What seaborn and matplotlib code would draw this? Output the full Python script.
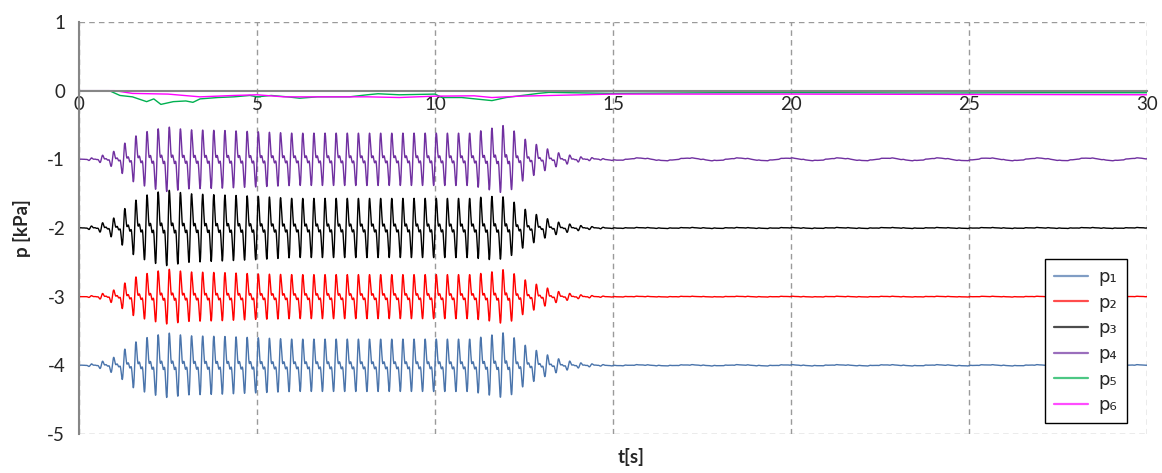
import numpy as np
import pandas as pd
import matplotlib
matplotlib.use("Agg")
import matplotlib.pyplot as plt
import seaborn as sns

# --- valores ------------------------------------------------------------
series_names = ["p₁", "p₂", "p₃", "p₄", "p₅", "p₆"]
series_colors = ["#4a74ab", "#ff0000", "#000000", "#7030a0", "#00b050", "#ff00ff"]

# deslocamento (kPa) de cada sonda oscilante
offsets = {"p₁": -4.0, "p₂": -3.0, "p₃": -2.0, "p₄": -1.0}

# envoltória (meia amplitude, kPa)
env_t = [0, 0.5, 1.0, 1.5, 2.0, 2.5, 3.0, 4.0, 5.0, 6.0, 8.0, 10.0, 11.0,
         11.5, 12.0, 12.5, 13.0, 13.5, 14.0, 14.5, 15.0, 30.0]
env_p1 = [0, 0.03, 0.12, 0.32, 0.42, 0.47, 0.43, 0.42, 0.40, 0.38, 0.38, 0.38,
          0.38, 0.43, 0.48, 0.30, 0.18, 0.09, 0.04, 0.015, 0.005, 0.004]
env_p2 = [0, 0.02, 0.10, 0.27, 0.35, 0.40, 0.36, 0.35, 0.33, 0.32, 0.32, 0.32,
          0.32, 0.35, 0.40, 0.25, 0.15, 0.07, 0.03, 0.012, 0.004, 0.003]
env_p3 = [0, 0.04, 0.15, 0.38, 0.50, 0.55, 0.50, 0.48, 0.46, 0.43, 0.43, 0.43,
          0.43, 0.46, 0.45, 0.28, 0.16, 0.08, 0.04, 0.015, 0.005, 0.004]
env_p4 = [0, 0.03, 0.12, 0.32, 0.42, 0.47, 0.43, 0.42, 0.40, 0.38, 0.38, 0.38,
          0.38, 0.44, 0.50, 0.30, 0.18, 0.09, 0.04, 0.015, 0.005, 0.004]

# pequena ondulação lenta depois de 15 s (kPa)
tail_amp = {"p₁": 0.006, "p₂": 0.003, "p₃": 0.004, "p₄": 0.018}
tail_period = 1.4

# frequências (Hz) e pesos estimados da oscilação
harm_freq = [3.2, 6.4, 9.6]
harm_amp = [0.7, 0.6, 0.35]
harm_phase = [0.0, 0.0, 0.0]

# p5 e p6 (deriva próxima de zero)
p5_t = [0, 0.85, 1.15, 1.5, 1.9, 2.1, 2.3, 2.65, 3.0, 3.2, 3.4, 3.9, 4.35, 4.8,
        5.0, 5.4, 5.85, 6.2, 6.7, 7.6, 8.1, 8.4, 9.0, 10.0, 10.2, 10.75, 11.6,
        12.0, 12.9, 13.2, 15.0, 18.0, 21.0, 24.0, 27.0, 30.0]
p5_v = [0, 0, -0.07, -0.09, -0.16, -0.12, -0.20, -0.16, -0.15, -0.17, -0.12,
        -0.10, -0.09, -0.07, -0.09, -0.07, -0.09, -0.11, -0.09, -0.09, -0.06,
        -0.045, -0.06, -0.05, -0.10, -0.10, -0.145, -0.10, -0.04, -0.025,
        -0.04, -0.03, -0.03, -0.035, -0.03, -0.03]
p6_t = [0, 1.0, 1.5, 2.5, 3.4, 4.35, 5.0, 5.75, 7.2, 8.1, 9.0, 10.0, 11.1,
        11.6, 12.4, 15.0, 20.0, 25.0, 30.0]
p6_v = [0, 0, -0.04, -0.05, -0.09, -0.07, -0.06, -0.09, -0.09, -0.09, -0.10,
        -0.08, -0.075, -0.10, -0.08, -0.05, -0.05, -0.055, -0.06]

# --- montagem dos dados --------------------------------------------------
t = np.arange(0, 30.0001, 0.004)
carrier = sum(a * np.sin(2 * np.pi * f * t + ph)
              for a, f, ph in zip(harm_amp, harm_freq, harm_phase))
carrier = carrier / np.percentile(np.abs(carrier), 97)
slow = np.sin(2 * np.pi * t / tail_period)

frames = []
for name, env in zip(["p₁", "p₂", "p₃", "p₄"], [env_p1, env_p2, env_p3, env_p4]):
    e = np.interp(t, env_t, env)
    w = np.interp(t, [0, 14.0, 15.5, 30], [0, 0, 1, 1])
    y = offsets[name] + e * carrier + w * tail_amp[name] * slow
    frames.append(pd.DataFrame({"t": t, "p": y, "serie": name}))
frames.append(pd.DataFrame({"t": p5_t, "p": p5_v, "serie": "p₅"}))
frames.append(pd.DataFrame({"t": p6_t, "p": p6_v, "serie": "p₆"}))
df = pd.concat(frames, ignore_index=True)

# --- gráfico -------------------------------------------------------------
sns.set_style("white")
plt.rcParams["font.family"] = ["Lato", "DejaVu Sans"]
plt.rcParams["axes.unicode_minus"] = False

fig = plt.figure(figsize=(11.62, 4.73), dpi=100)
ax = fig.add_axes([0.068, 0.0825, 0.919, 0.871])

sns.lineplot(data=df, x="t", y="p", hue="serie", hue_order=series_names,
             palette=dict(zip(series_names, series_colors)),
             estimator=None, sort=False, linewidth=1.0, ax=ax)

ax.set_xlim(0, 30)
ax.set_ylim(-5, 1)
ax.set_xticks(range(0, 31, 5))
ax.set_yticks(range(-5, 2))

# eixo x cruzando em zero, moldura tracejada
ax.spines["bottom"].set_position(("data", 0))
for s in ["bottom", "left"]:
    ax.spines[s].set_color("#868686")
    ax.spines[s].set_linewidth(1.5)
ax.spines["top"].set_visible(False)
ax.spines["right"].set_visible(False)
ax.grid(axis="x", color="#9a9a9a", linestyle=(0, (4, 3)), linewidth=1.0)
ax.axhline(1, color="#9a9a9a", linestyle=(0, (4, 3)), linewidth=1.0)
ax.axhline(-5, color="#9a9a9a", linestyle=(0, (4, 3)), linewidth=1.0)
ax.set_axisbelow(True)

ax.tick_params(axis="y", direction="out", length=5, color="#868686",
               labelsize=13.5, pad=5)
ax.tick_params(axis="x", direction="out", length=0, labelsize=13.5, pad=4)

ax.set_xlabel("")
ax.set_ylabel("p [kPa]", fontsize=13.5, fontweight="bold", labelpad=12)
fig.text(0.5435, 0.022, "t[s]", fontsize=13.5, fontweight="bold", ha="center")

handles, labels = ax.get_legend_handles_labels()
leg = ax.legend(handles, labels, loc="upper left",
                bbox_to_anchor=(0.899, 0.452), bbox_transform=fig.transFigure,
                prop={"family": ["DejaVu Sans"], "size": 13},
                frameon=True, fancybox=False, framealpha=1,
                edgecolor="black", handlelength=1.9, labelspacing=0.42,
                borderpad=0.5, handletextpad=0.6, borderaxespad=0)
leg.get_frame().set_linewidth(1.0)
for line in leg.get_lines():
    line.set_linewidth(1.6)
    line.set_alpha(0.7)

fig.savefig("out.png", dpi=100)
